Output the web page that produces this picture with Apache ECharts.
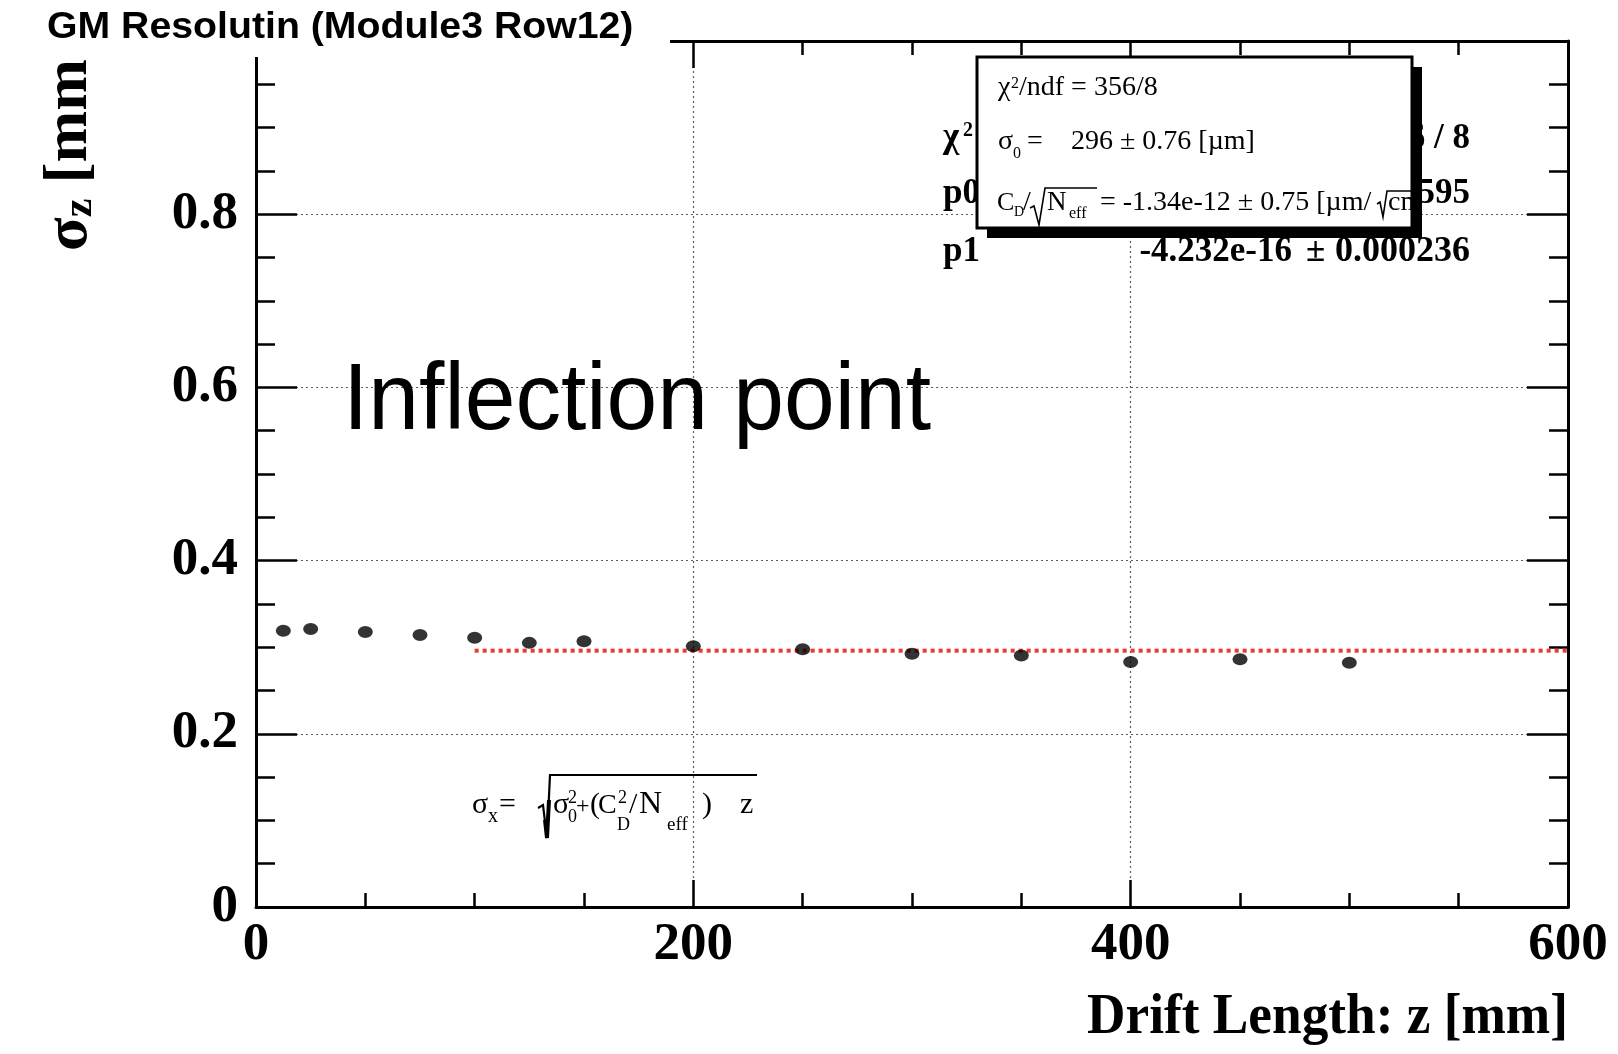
<!DOCTYPE html>
<html>
<head>
<meta charset="utf-8">
<script src="https://cdn.jsdelivr.net/npm/echarts/dist/echarts.min.js"></script>
<style>
  html, body { margin: 0; padding: 0; background: #fff; }
  #chart { width: 1618px; height: 1054px; }
</style>
</head>
<body>
<div id="chart"></div>
<script>
// Measured GM resolution vs drift length (Module3, Row12)
const driftLength = [12.5, 25, 50, 75, 100, 125, 150, 200, 250, 300, 350, 400, 450, 500]; // mm
const sigmaZ = [0.319, 0.321, 0.3175, 0.314, 0.311, 0.305, 0.307, 0.301, 0.2975, 0.2925, 0.2905, 0.283, 0.286, 0.282]; // mm

// Fit result: sigma0 = 296 um, drawn over the fitted range
const sigma0 = 0.296;          // mm
const fitRange = [100, 600];   // mm

// Axis ranges and ticks
const xRange = [0, 600];
const xStep = 200;
const yRange = [0, 1];
const yStep = 0.2;
const yTickLabels = { 0: '0', 0.2: '0.2', 0.4: '0.4', 0.6: '0.6', 0.8: '0.8', 1: '1' };

// Texts
const titleText = 'GM Resolutin (Module3 Row12)';
const xTitle = 'Drift Length: z [mm]';
const noteText = 'Inflection point';
const statsBack = { chi2: '356 / 8', p0: '0.296 \u00b1 0.000595', p1: '-4.232e-16', p1err: '0.000236' };
const statsFront = { chi2: '/ndf = 356/8', sigma0: '296 \u00b1 0.76 [\u00b5m]', cd: '= -1.34e-12 \u00b1 0.75 [\u00b5m/' };

const SERIF = 'Liberation Serif';
const SANS = 'Liberation Sans';

// text placed by its alphabetic baseline
function txt(x, base, text, size, o = {}) {
  const fam = o.sans ? SANS : SERIF;
  const mid = o.sans ? 0.3465 : 0.3375;
  return {
    type: 'text', x: x, y: base - mid * size, z: o.z != null ? o.z : 80, silent: true,
    scaleX: o.sx != null ? o.sx : 1,
    style: {
      text: text, fontSize: size, fontFamily: fam, fontWeight: o.bold ? 'bold' : 'normal',
      fill: '#000', align: o.align || 'left', verticalAlign: 'middle'
    }
  };
}
function stroke(points, w, z) {
  return { type: 'polyline', silent: true, z: z, shape: { points: points }, style: { stroke: '#000', lineWidth: w, fill: null } };
}

const chart = echarts.init(document.getElementById('chart'), null, { renderer: 'canvas' });

const tickLabelStyle = { fontFamily: SERIF, fontWeight: 'bold', fontSize: 53, color: '#000' };
const gridLine = { show: true, lineStyle: { color: '#5a5a5a', width: 1.2, type: [2, 3] } };
const frameLine = { show: true, onZero: false, lineStyle: { color: '#000', width: 3 } };

function xAx(pos, main) {
  return {
    type: 'value', position: pos, min: xRange[0], max: xRange[1], interval: xStep,
    axisLine: frameLine,
    axisTick: { show: true, inside: true, length: 27, lineStyle: { color: '#000', width: 2.5 } },
    minorTick: { show: true, splitNumber: 4, length: 14, lineStyle: { color: '#000', width: 2.5 } },
    axisLabel: main ? Object.assign({ show: true, margin: 12 }, tickLabelStyle) : { show: false },
    splitLine: main ? gridLine : { show: false },
    minorSplitLine: { show: false }
  };
}
function yAx(pos, main) {
  return {
    type: 'value', position: pos, min: yRange[0], max: yRange[1], interval: yStep,
    axisLine: frameLine,
    axisTick: { show: true, inside: true, length: 41, lineStyle: { color: '#000', width: 2.5 } },
    minorTick: { show: true, splitNumber: 4, length: 19, lineStyle: { color: '#000', width: 2.5 } },
    axisLabel: main ? Object.assign({ show: true, margin: 18, formatter: v => yTickLabels[Math.round(v * 10) / 10] }, tickLabelStyle) : { show: false },
    splitLine: main ? gridLine : { show: false },
    minorSplitLine: { show: false }
  };
}

const graphics = [
  // y-axis title (its top end sits under the title area)
  {
    type: 'text', x: 70, y: 251, rotation: Math.PI / 2, z: 50, silent: true,
    style: {
      text: '{a|\u03c3}{b|z}{a| [mm]}', align: 'left', verticalAlign: 'middle',
      rich: {
        a: { fontSize: 62, fontFamily: SERIF, fontWeight: 'bold', fill: '#000', lineHeight: 62 },
        b: { fontSize: 42, fontFamily: SERIF, fontWeight: 'bold', fill: '#000', lineHeight: 24, verticalAlign: 'bottom' }
      }
    }
  },
  // title area
  { type: 'rect', silent: true, z: 90, shape: { x: 0, y: 0, width: 670, height: 57 }, style: { fill: '#fff' } },
  { type: 'rect', silent: true, z: 90, shape: { x: 0, y: 0, width: 200, height: 60 }, style: { fill: '#fff' } },
  txt(47, 41, titleText, 36, { sans: true, bold: true, sx: 1.09, z: 91 }),

  // x-axis title
  txt(1568, 1038, xTitle, 57, { bold: true, align: 'right', sx: 0.935, z: 50 }),

  // fit statistics (back panel, mostly hidden)
  txt(943, 150, '\u03c7', 35, { bold: true, z: 60 }),
  txt(963, 138, '2', 20, { bold: true, z: 60 }),
  txt(975, 150, ' / ndf', 35, { bold: true, z: 60 }),
  txt(1470, 151, statsBack.chi2, 35, { bold: true, align: 'right', z: 60 }),
  txt(943, 206, 'p0', 35, { bold: true, z: 60 }),
  txt(1470, 206, statsBack.p0, 35, { bold: true, align: 'right', z: 60 }),
  txt(943, 264, 'p1', 35, { bold: true, z: 60 }),
  txt(1292, 264, statsBack.p1, 35, { bold: true, align: 'right', z: 60 }),
  txt(1306, 264, '\u00b1', 35, { bold: true, z: 60 }),
  txt(1470, 264, statsBack.p1err, 36, { bold: true, align: 'right', z: 60 }),

  // fit statistics (front panel)
  { type: 'rect', silent: true, z: 70, shape: { x: 987, y: 67, width: 435, height: 171 }, style: { fill: '#000' } },
  { type: 'rect', silent: true, z: 71, shape: { x: 977, y: 57, width: 435, height: 171 }, style: { fill: '#fff', stroke: '#000', lineWidth: 3 } },
  txt(998, 97, '\u03c7', 28, { z: 72 }),
  txt(1011, 89, '2', 16, { z: 72 }),
  txt(1019, 97, statsFront.chi2, 28, { z: 72 }),
  txt(998, 151, '\u03c3', 28, { z: 72 }),
  txt(1013, 159, '0', 16, { z: 72 }),
  txt(1027, 151, '=', 28, { z: 72 }),
  txt(1071, 151, statsFront.sigma0, 28, { z: 72 }),
  txt(997, 212, 'C', 26, { z: 72 }),
  txt(1014, 217, 'D', 14, { z: 72 }),
  txt(1023, 212, '/', 28, { z: 72 }),
  stroke([[1030, 208], [1034, 206], [1039, 225], [1045, 188], [1097, 188]], 1.6, 72),
  txt(1047, 212, 'N', 27, { z: 72 }),
  txt(1069, 219, 'eff', 16, { z: 72 }),
  txt(1100, 212, statsFront.cd, 28, { z: 72 }),
  stroke([[1377, 204], [1380, 202], [1383, 217], [1387, 191], [1411, 191]], 1.6, 72),
  txt(1388, 212, 'cm', 28, { z: 72 }),

  // annotation
  txt(343, 436, noteText, 95, { sans: true, sx: 0.96, z: 80 }),

  // resolution model
  txt(472, 815, '\u03c3', 30, { z: 80 }),
  txt(488, 823, 'x', 20, { z: 80 }),
  txt(499, 815, '=', 30, { z: 80 }),
  stroke([[538, 808], [543, 805], [547, 838], [550, 775], [757, 775]], 2.2, 80),
  stroke([[545, 820], [547, 838], [549, 800]], 4, 80),
  txt(553, 815, '\u03c3', 30, { z: 80 }),
  txt(568, 804, '2', 18, { z: 80 }),
  txt(568, 823, '0', 18, { z: 80 }),
  txt(576, 815, '+', 24, { z: 80 }),
  txt(590, 815, '(', 30, { z: 80 }),
  txt(598, 815, 'C', 28, { z: 80 }),
  txt(618, 804, '2', 18, { z: 80 }),
  txt(617, 831, 'D', 18, { z: 80 }),
  txt(629, 815, '/', 30, { z: 80 }),
  txt(639, 815, 'N', 32, { z: 80 }),
  txt(667, 831, 'eff', 19, { z: 80 }),
  txt(702, 815, ')', 30, { z: 80 }),
  txt(740, 815, 'z', 30, { z: 80 })
];

chart.setOption({
  animation: false,
  backgroundColor: '#fff',
  grid: { left: 256, right: 50, top: 41, bottom: 147, outerBoundsMode: 'none', containLabel: false },
  xAxis: [xAx('bottom', true), xAx('top', false)],
  yAxis: [yAx('left', true), yAx('right', false)],
  series: [
    {
      name: 'fit', type: 'line', xAxisIndex: 0, yAxisIndex: 0, z: 4,
      data: [[fitRange[0], sigma0], [fitRange[1], sigma0]],
      showSymbol: false, symbol: 'none', silent: true,
      lineStyle: { color: '#ee3a2c', width: 4, type: [4, 4] }
    },
    {
      name: 'sigma_z', type: 'scatter', xAxisIndex: 0, yAxisIndex: 0, z: 5,
      data: driftLength.map((z, i) => [z, sigmaZ[i]]),
      symbol: 'circle', symbolSize: [15, 12], silent: true,
      itemStyle: { color: '#000' }
    }
  ],
  graphic: graphics
});
</script>
</body>
</html>
